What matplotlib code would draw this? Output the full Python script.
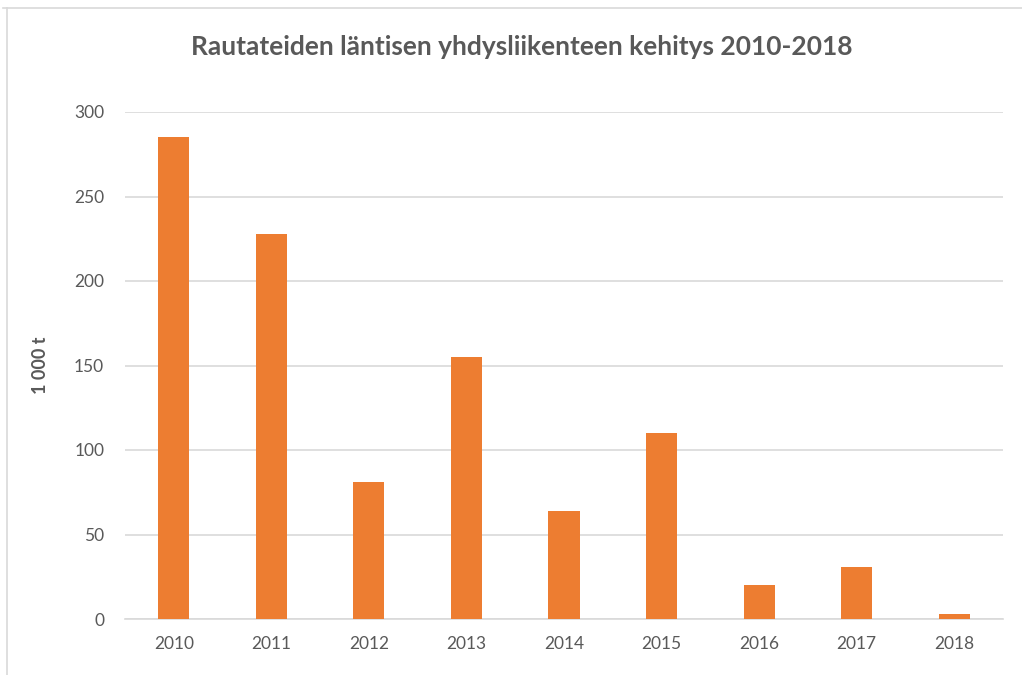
import matplotlib
matplotlib.use("Agg")
import matplotlib.pyplot as plt
from matplotlib.lines import Line2D

years = ["2010", "2011", "2012", "2013", "2014", "2015", "2016", "2017", "2018"]
values = [285, 228, 81, 155, 64, 110, 20, 31, 3]
yticks = [0, 50, 100, 150, 200, 250, 300]

plt.rcParams['font.family'] = ['Lato', 'DejaVu Sans']
txt = '#595959'

fig = plt.figure(figsize=(10.22, 6.75), dpi=100)
ax = fig.add_axes([125/1022, 1 - 619/675, (1003-125)/1022, (619-112)/675])

x = range(len(years))
ax.bar(x, values, width=0.32, color='#ED7D31', zorder=3)
ax.set_xlim(-0.5, len(years) - 0.5)
ax.set_ylim(0, 300)
ax.set_yticks(yticks)
ax.set_xticks(list(x))
ax.set_xticklabels(years)
ax.grid(axis='y', color='#D9D9D9', linewidth=1.2, zorder=0)
for s in ['top', 'right', 'left']:
    ax.spines[s].set_visible(False)
ax.spines['bottom'].set_color('#D9D9D9')
ax.spines['bottom'].set_linewidth(1.2)
ax.tick_params(axis='both', length=0, labelsize=12.5, colors=txt)
ax.tick_params(axis='y', pad=15)
ax.tick_params(axis='x', pad=12)

fig.text(40/1022, 1 - 365/675, '1 000 t', rotation=90, ha='center', va='center',
         fontsize=13, fontweight='bold', color=txt)

fig.text(522/1022, 1 - 47/675, 'Rautateiden läntisen yhdysliikenteen kehitys 2010-2018',
         ha='center', va='center', fontsize=19, fontweight='bold', color=txt)

# chart frame
fig.add_artist(Line2D([3/1022, 1], [1 - 8/675]*2, color='#D9D9D9', lw=1.2, transform=fig.transFigure))
fig.add_artist(Line2D([7/1022]*2, [0, 1 - 8/675], color='#D9D9D9', lw=1.2, transform=fig.transFigure))

fig.savefig('out.png', dpi=100)
